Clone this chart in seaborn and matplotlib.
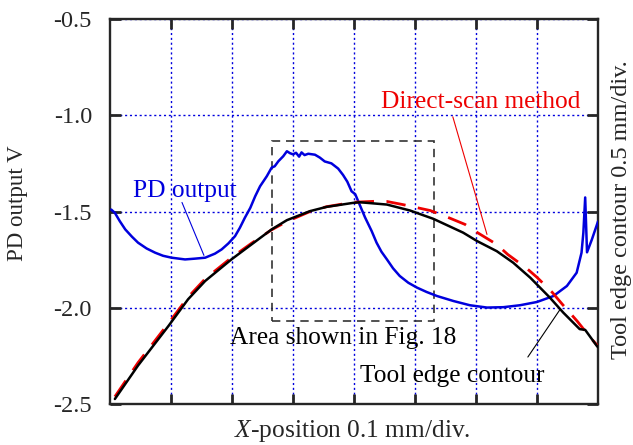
import numpy as np
import pandas as pd
import seaborn as sns
import matplotlib
matplotlib.use("Agg")
import matplotlib.pyplot as plt
from matplotlib.patches import Rectangle

# ---- data (x in divisions, y in V) ----
pd_x = [0.02, 0.08, 0.16, 0.25, 0.36, 0.46, 0.60, 0.74, 0.87, 1.01, 1.23, 1.39, 1.56,
        1.72, 1.83, 1.94, 2.05, 2.13, 2.21, 2.30, 2.38, 2.46,
        2.57, 2.65, 2.70, 2.76, 2.84, 2.90, 2.95, 3.00, 3.05, 3.10, 3.14, 3.19, 3.25,
        3.36, 3.44, 3.52, 3.63, 3.74, 3.82, 3.89, 3.96, 4.02, 4.10, 4.18, 4.29, 4.37,
        4.45, 4.54, 4.64, 4.75, 4.89, 5.03, 5.19, 5.36, 5.63, 5.90, 6.18, 6.45, 6.72,
        7.00, 7.27, 7.49, 7.65, 7.73, 7.76, 7.79, 7.82, 7.90, 8.00]
pd_y = [-1.490, -1.507, -1.550, -1.593, -1.631, -1.662, -1.692, -1.714, -1.730, -1.740,
        -1.749, -1.745, -1.740, -1.719, -1.697, -1.666, -1.628, -1.584, -1.533, -1.481,
        -1.421, -1.369,
        -1.317, -1.272, -1.265, -1.239, -1.213, -1.187, -1.197, -1.203, -1.195, -1.215,
        -1.193, -1.207, -1.200, -1.205, -1.220, -1.240, -1.250, -1.277, -1.310, -1.345,
        -1.395, -1.410, -1.470, -1.530, -1.602, -1.662, -1.709, -1.749, -1.795, -1.835,
        -1.870, -1.895, -1.918, -1.939, -1.965, -1.987, -1.999, -1.997, -1.987, -1.970,
        -1.939, -1.887, -1.818, -1.714, -1.610, -1.427, -1.712, -1.645, -1.552]

tool_x = [0.08, 0.46, 0.96, 1.28, 1.56, 1.99, 2.32, 2.65, 2.90, 3.28, 3.55, 3.99, 4.10,
          4.54, 4.92, 5.30, 5.79, 6.02, 6.34, 6.61, 6.89, 7.21, 7.43, 7.70, 7.79, 7.98, 8.00]
tool_y = [-2.474, -2.300, -2.094, -1.956, -1.861, -1.749, -1.671, -1.593, -1.545, -1.498,
          -1.476, -1.455, -1.452, -1.464, -1.495, -1.538, -1.610, -1.654, -1.706, -1.766,
          -1.844, -1.947, -2.025, -2.111, -2.115, -2.198, -2.205]

scan_x = [0.08, 0.46, 0.96, 1.28, 1.56, 1.99, 2.32, 2.65, 2.90, 3.28, 3.55, 3.99, 4.34,
          4.54, 4.80, 5.25, 5.49, 5.82, 6.02, 6.34, 6.52, 6.83, 7.00, 7.25, 7.41, 7.66,
          7.87, 8.00]
scan_y = [-2.462, -2.285, -2.080, -1.945, -1.850, -1.740, -1.665, -1.595, -1.552, -1.500,
          -1.475, -1.452, -1.447, -1.448, -1.464, -1.495, -1.524, -1.567, -1.609, -1.671,
          -1.723, -1.795, -1.842, -1.920, -1.980, -2.070, -2.153, -2.200]

y_ticks = [-2.5, -2.0, -1.5, -1.0, -0.5]
x_ticks = [1, 2, 3, 4, 5, 6, 7]

# ---- style ----
sns.set_style("ticks")
plt.rcParams["font.family"] = ["Liberation Serif", "DejaVu Serif"]
plt.rcParams["mathtext.fontset"] = "custom"
plt.rcParams["mathtext.it"] = "Liberation Serif:italic"
plt.rcParams["mathtext.rm"] = "Liberation Serif"
plt.rcParams["axes.unicode_minus"] = False

BLUE = "#0000dd"
RED = "#ee0000"
FS = 18.3

fig = plt.figure(figsize=(6.33, 4.45), dpi=100)
ax = fig.add_axes([110 / 633, 41 / 445, 488 / 633, 385 / 445])

df_pd = pd.DataFrame({"x": pd_x, "y": pd_y})
df_tool = pd.DataFrame({"x": tool_x, "y": tool_y})
df_scan = pd.DataFrame({"x": scan_x, "y": scan_y})

sns.lineplot(data=df_pd, x="x", y="y", ax=ax, color=BLUE, lw=1.8, sort=False,
             estimator=None, zorder=3)
sns.lineplot(data=df_scan, x="x", y="y", ax=ax, color=RED, lw=2.0, sort=False,
             estimator=None, zorder=4, linestyle=(0, (7.0, 4.5)))
sns.lineplot(data=df_tool, x="x", y="y", ax=ax, color="black", lw=1.8, sort=False,
             estimator=None, zorder=5)

ax.set_xlim(0, 8)
ax.set_ylim(-2.5, -0.5)
ax.set_xticks(x_ticks)
ax.set_xticklabels([])
ax.set_yticks(y_ticks)
ax.set_yticklabels([f"{v:.1f}" for v in y_ticks])
ax.set_xlabel("")
ax.set_ylabel("")
ax.tick_params(axis="x", direction="in", top=True, bottom=True, length=7, width=2)
ax.tick_params(axis="y", direction="in", left=True, right=True, length=8, width=2,
               labelsize=17.5, pad=13)
for s in ax.spines.values():
    s.set_linewidth(1.7)
    s.set_visible(True)
ax.grid(True, color=BLUE, linestyle=(0, (1.5, 2.0)), lw=1.0)
ax.set_axisbelow(True)

# dashed area box
ax.add_patch(Rectangle((2.66, -2.07), 5.31 - 2.66, -1.132 - (-2.07), fill=False,
                       edgecolor="#333333", lw=1.2, linestyle=(0, (5, 3.5)), zorder=2))

# annotations
ax.text(1.22, -1.427, "PD output", color=BLUE, fontsize=FS, ha="center", va="baseline")
ax.plot([1.18, 1.54], [-1.453, -1.728], color=BLUE, lw=0.8)
ax.text(6.08, -0.961, "Direct-scan method", color=RED, fontsize=FS, ha="center", va="baseline")
ax.plot([5.62, 6.18], [-1.008, -1.619], color=RED, lw=0.8)
ax.text(3.82, -2.186, "Area shown in Fig. 18", color="black", fontsize=FS, ha="center",
        va="baseline")
ax.text(5.61, -2.386, "Tool edge contour", color="black", fontsize=FS, ha="center",
        va="baseline")
ax.plot([6.85, 7.38], [-2.256, -2.008], color="black", lw=0.8)

# axis labels
fig.text(352 / 633, 1 - 437 / 445, r"$X$-position 0.1 mm/div.", fontsize=FS,
         ha="center", va="baseline")
fig.text(18 / 633, 1 - 203 / 445, "PD output V", fontsize=16.5, rotation=90,
         ha="center", va="center")
fig.text(621 / 633, 1 - 210 / 445, "Tool edge contour 0.5 mm/div.", fontsize=17.5,
         rotation=90, ha="center", va="center")

fig.savefig("out.png", dpi=100)
